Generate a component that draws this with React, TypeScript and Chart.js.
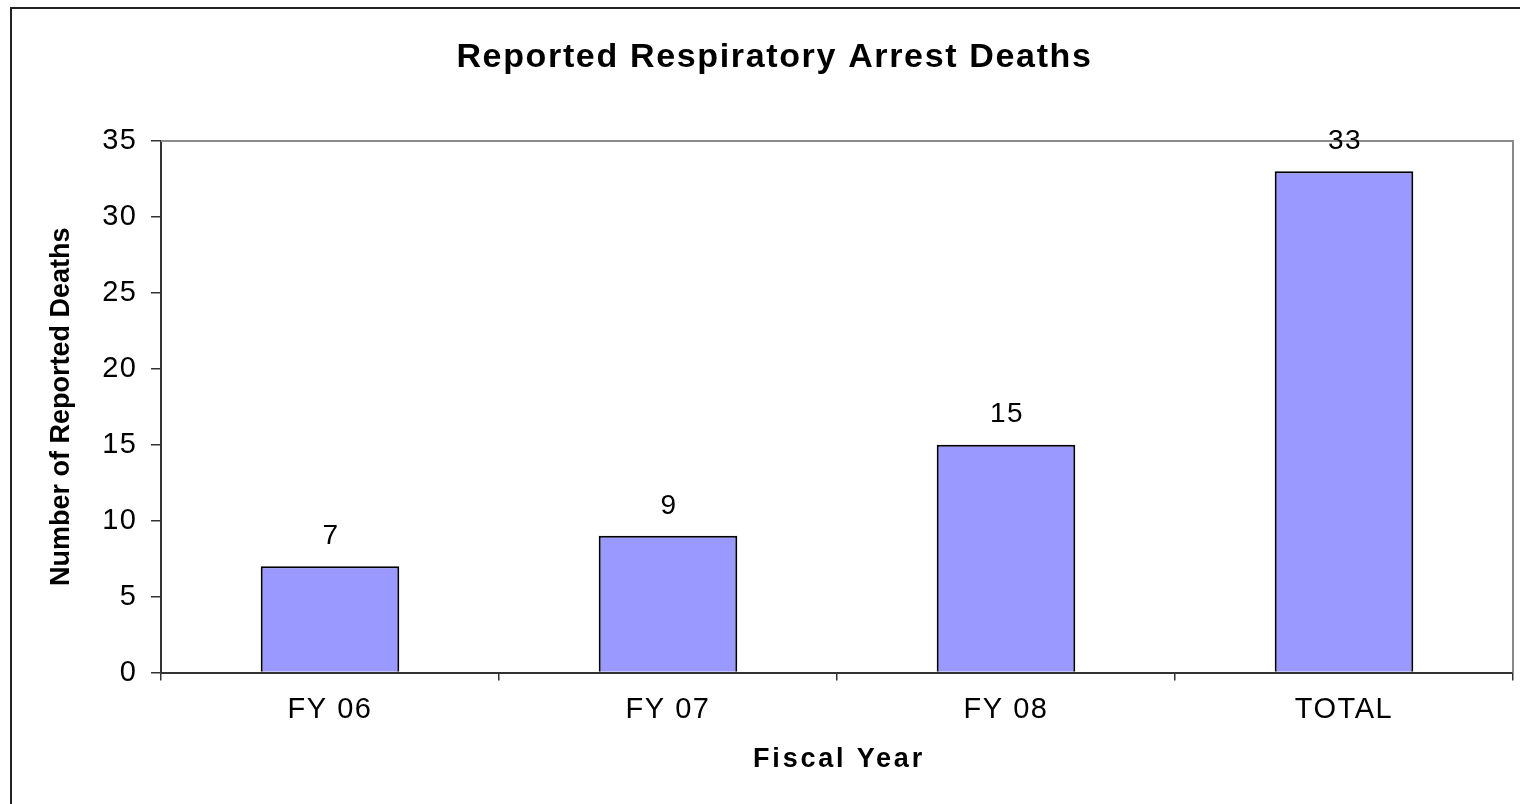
import { useEffect, useRef } from 'react';
import { Chart, registerables } from 'chart.js';

Chart.register(...registerables);

const categories = ['FY 06', 'FY 07', 'FY 08', 'TOTAL'];
const deaths = [7, 9, 15, 33];
const yMin = 0;
const yMax = 35;
const yStep = 5;

const chartTitle = 'Reported Respiratory Arrest Deaths';
const xTitle = 'Fiscal Year';
const yTitle = 'Number of Reported Deaths';

const FONT = '"Liberation Sans", Arial, Helvetica, sans-serif';
const W = 1520;
const H = 804;

function withSpacing(ctx: any, spacing: string, fn: () => void, dx = 0) {
  const prev = ctx.letterSpacing;
  ctx.save();
  ctx.translate(dx, 0);
  ctx.letterSpacing = spacing;
  try {
    fn();
  } finally {
    ctx.restore();
    ctx.letterSpacing = prev;
  }
}

const TICK_SPACING = '1.5px';

const stylePlugin = {
  id: 'stylePlugin',
  beforeUpdate(chart: any) {
    chart.ctx.letterSpacing = TICK_SPACING;
  },
  beforeDraw(chart: any) {
    const ctx = chart.ctx;
    ctx.letterSpacing = TICK_SPACING;
    const tb = chart.titleBlock;
    if (tb && !tb.__patched) {
      const orig = tb.draw.bind(tb);
      tb.draw = () => withSpacing(tb.ctx, '1.65px', orig, 18);
      tb.__patched = true;
    }
    const xs = chart.scales.x;
    if (xs && !xs.__patched) {
      const orig = xs.drawTitle.bind(xs);
      xs.drawTitle = () => withSpacing(xs.ctx, '2.8px', orig, 2);
      xs.__patched = true;
    }
    const ys = chart.scales.y;
    if (ys && !ys.__patched) {
      const orig = ys.drawTitle.bind(ys);
      ys.drawTitle = () => withSpacing(ys.ctx, '0px', orig);
      ys.__patched = true;
    }
  },
  beforeDatasetsDraw(chart: any) {
    const { ctx, chartArea } = chart;
    ctx.save();
    ctx.strokeStyle = '#8a8a8a';
    ctx.lineWidth = 2;
    ctx.beginPath();
    ctx.moveTo(chartArea.left, chartArea.top);
    ctx.lineTo(chartArea.right, chartArea.top);
    ctx.lineTo(chartArea.right, chartArea.bottom);
    ctx.stroke();
    ctx.restore();
  },
  afterDatasetsDraw(chart: any) {
    const { ctx } = chart;
    const meta = chart.getDatasetMeta(0);
    ctx.save();
    ctx.letterSpacing = '1.5px';
    ctx.font = `28px ${FONT}`;
    ctx.fillStyle = '#000';
    ctx.textAlign = 'center';
    ctx.textBaseline = 'middle';
    meta.data.forEach((bar: any, i: number) => {
      ctx.fillText(String(deaths[i]), bar.x + 1, bar.y - 30);
    });
    ctx.restore();
  },
};

function BarChart() {
  const ref = useRef<HTMLCanvasElement | null>(null);
  useEffect(() => {
    if (!ref.current) return;
    const chart = new Chart(ref.current, {
      type: 'bar',
      data: {
        labels: categories,
        datasets: [
          {
            label: 'Deaths',
            data: deaths,
            backgroundColor: '#9999FF',
            borderColor: '#000000',
            borderWidth: 2,
            barPercentage: 0.41,
            categoryPercentage: 1.0,
          },
        ],
      },
      options: {
        animation: false,
        responsive: false,
        devicePixelRatio: 1,
        layout: { padding: { left: 0, right: 7, top: 0, bottom: 0 } },
        plugins: {
          legend: { display: false },
          tooltip: { enabled: false },
          title: {
            display: true,
            text: chartTitle,
            color: '#000',
            font: { family: FONT, size: 34, weight: 'bold', lineHeight: 1.2 },
            padding: { top: 37.6, bottom: 62.6 },
          },
        },
        scales: {
          x: {
            offset: true,
            grid: {
              offset: true,
              drawOnChartArea: false,
              drawTicks: true,
              tickLength: 8,
              color: '#333333',
              lineWidth: 1.5,
            },
            border: { display: true, color: '#333333', width: 2 },
            ticks: {
              color: '#000',
              font: { family: FONT, size: 29, lineHeight: 1.2 },
              padding: 12,
              maxRotation: 0,
            },
            title: {
              display: true,
              text: xTitle,
              color: '#000',
              font: { family: FONT, size: 27, weight: 'bold', lineHeight: 1.2 },
              padding: { top: 0, bottom: 28.3 },
            },
            afterFit: (scale: any) => {
              scale.height = 131.5;
            },
          },
          y: {
            min: yMin,
            max: yMax,
            ticks: {
              stepSize: yStep,
              color: '#000',
              font: { family: FONT, size: 29, lineHeight: 1.2 },
              padding: 13.5,
            },
            grid: {
              drawOnChartArea: false,
              drawTicks: true,
              tickLength: 10,
              color: '#333333',
              lineWidth: 1.5,
            },
            border: { display: true, color: '#333333', width: 2 },
            title: {
              display: true,
              text: yTitle,
              color: '#000',
              font: { family: FONT, size: 27, weight: 'bold', lineHeight: 1.2 },
              padding: { top: 45.8, bottom: 0 },
            },
            afterFit: (scale: any) => {
              scale.width = 161;
            },
          },
        },
      },
      plugins: [stylePlugin],
    } as any);
    return () => chart.destroy();
  }, []);
  return <canvas ref={ref} width={W} height={H} style={{ width: W, height: H, display: 'block' }} />;
}

export default function App() {
  return (
    <div
      style={{
        position: 'fixed',
        left: 0,
        top: 0,
        width: W,
        height: H,
        overflow: 'hidden',
        background: '#fff',
      }}
    >
      <BarChart />
      <div
        style={{
          position: 'absolute',
          left: 10,
          top: 7,
          width: W + 100,
          height: H + 100,
          border: '2px solid #222',
          pointerEvents: 'none',
        }}
      />
    </div>
  );
}
